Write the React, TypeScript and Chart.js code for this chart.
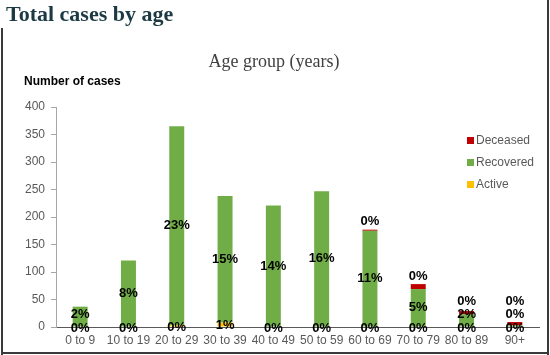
import React, { useEffect, useRef } from 'react';
import { Chart, registerables } from 'chart.js';
Chart.register(...registerables);

const categories = ['0 to 9', '10 to 19', '20 to 29', '30 to 39', '40 to 49', '50 to 59', '60 to 69', '70 to 79', '80 to 89', '90+'];
const activeValues = [0, 0, 3, 8, 0, 0, 0, 0, 0, 0];
const recoveredValues = [37, 121, 362, 230, 221, 247, 175, 69, 23, 3];
const deceasedValues = [null, null, null, null, null, null, 2, 9, 6, 6];
const activePct = ['0%', '0%', '0%', '1%', '0%', '0%', '0%', '0%', '0%', '0%'];
const recoveredPct = ['2%', '8%', '23%', '15%', '14%', '16%', '11%', '5%', '2%', '0%'];
const deceasedPct = [null, null, null, null, null, null, '0%', '0%', '0%', '0%'];
const yTicksMax = 400;
const yTickStep = 50;

const SANS = '"Liberation Sans", Arial, sans-serif';
const SERIF = '"Liberation Serif", "Times New Roman", serif';

const overlay = {
  id: 'overlay',
  afterDatasetsDraw(chart: any) {
    const ctx = chart.ctx;
    const mA = chart.getDatasetMeta(0);
    const mR = chart.getDatasetMeta(1);
    const mD = chart.getDatasetMeta(2);
    ctx.save();
    ctx.font = 'bold 13px ' + SANS;
    ctx.fillStyle = '#000';
    ctx.textAlign = 'center';
    ctx.textBaseline = 'middle';
    for (let i = 0; i < categories.length; i++) {
      const a: any = mA.data[i];
      const r: any = mR.data[i];
      const ya = (a.y + a.base) / 2;
      ctx.fillText(activePct[i], a.x, ya + 1);
      const yr = Math.min((r.y + r.base) / 2, ya - 13);
      ctx.fillText(recoveredPct[i], r.x, yr);
      if (deceasedPct[i]) {
        const d: any = mD.data[i];
        const yd = Math.min(d.y - 8, yr - 13);
        ctx.fillText(deceasedPct[i] as string, d.x, yd);
      }
    }
    ctx.restore();
  },
  afterDraw(chart: any) {
    const ctx = chart.ctx;
    ctx.save();
    // frame
    ctx.fillStyle = '#3a3a3a';
    ctx.fillRect(1, 28, 2, 327);
    ctx.fillRect(547, 0, 2, 355);
    ctx.fillRect(1, 352, 548, 2);
    // page title
    ctx.fillStyle = '#1c3a44';
    ctx.font = 'bold 22px ' + SERIF;
    ctx.textAlign = 'left';
    ctx.textBaseline = 'alphabetic';
    ctx.fillText('Total cases by age', 6, 21);
    // chart title
    ctx.fillStyle = '#404040';
    ctx.font = '18px ' + SERIF;
    ctx.textAlign = 'center';
    ctx.fillText('Age group (years)', 274, 67);
    // y axis title
    ctx.fillStyle = '#000';
    ctx.font = 'bold 12px ' + SANS;
    ctx.textAlign = 'left';
    ctx.textBaseline = 'middle';
    ctx.fillText('Number of cases', 24, 82);
    // legend
    const items = [
      { label: 'Deceased', color: '#C00000' },
      { label: 'Recovered', color: '#70AD47' },
      { label: 'Active', color: '#FFC000' },
    ];
    ctx.font = '12px ' + SANS;
    items.forEach((it, k) => {
      const y = 140 + k * 22;
      ctx.fillStyle = it.color;
      ctx.fillRect(467, y - 3, 7, 7);
      ctx.fillStyle = '#595959';
      ctx.fillText(it.label, 476, y + 1);
    });
    ctx.restore();
  },
};

export default function App() {
  const ref = useRef<HTMLCanvasElement>(null);
  useEffect(() => {
    document.body.style.margin = '0';
    const chart = new Chart(ref.current as HTMLCanvasElement, {
      type: 'bar',
      data: {
        labels: categories,
        datasets: [
          { label: 'Active', data: activeValues, backgroundColor: '#FFC000' },
          { label: 'Recovered', data: recoveredValues, backgroundColor: '#70AD47' },
          { label: 'Deceased', data: deceasedValues as any, backgroundColor: '#C00000' },
        ],
      },
      options: {
        responsive: false,
        animation: false,
        devicePixelRatio: 1,
        layout: { padding: { left: 0, right: 11, top: 107, bottom: 8 } },
        datasets: { bar: { categoryPercentage: 1, barPercentage: 0.31 } },
        plugins: { legend: { display: false }, tooltip: { enabled: false }, title: { display: false } },
        scales: {
          x: {
            stacked: true,
            grid: { display: false, drawTicks: false },
            border: { display: true, color: '#595959', width: 1 },
            ticks: { color: '#595959', font: { family: SANS, size: 12 }, padding: 6, maxRotation: 0, minRotation: 0, autoSkip: false },
            afterFit: (s: any) => { s.height = 20; },
          },
          y: {
            stacked: true,
            min: 0,
            max: yTicksMax,
            ticks: { stepSize: yTickStep, color: '#595959', font: { family: SANS, size: 12 }, padding: 6 },
            grid: { drawOnChartArea: false, drawTicks: true, tickLength: 5, color: '#a6a6a6' },
            border: { display: true, color: '#a6a6a6', width: 1 },
            afterFit: (s: any) => { s.width = 56; },
          },
        },
      },
      plugins: [overlay],
    });
    return () => chart.destroy();
  }, []);
  return (
    <div style={{ position: 'relative', width: 550, height: 355, background: '#fff' }}>
      <canvas ref={ref} width={550} height={355} style={{ position: 'absolute', left: 0, top: 0, width: 550, height: 355 }} />
    </div>
  );
}
